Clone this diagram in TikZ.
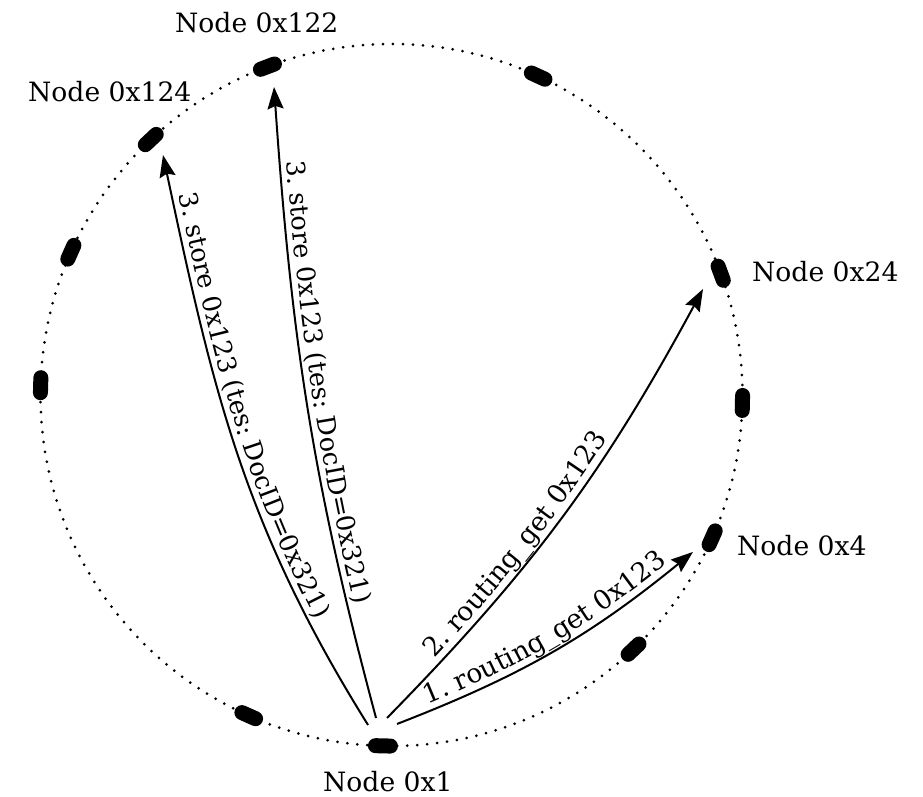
\documentclass[tikz,border=0pt]{standalone}
\usepackage{fontspec}
\setmainfont{DejaVu Serif}
\usetikzlibrary{arrows.meta,calc,decorations.text}
\newcommand{\storefont}{\fontsize{25.5}{30}\selectfont}
\newcommand{\routefont}{\fontsize{26.6}{32}\selectfont}
\begin{document}
\begin{tikzpicture}[x=1pt,y=1pt,
  peer/.style={draw=none, fill=black, rectangle, rounded corners=7.5pt,
    minimum width=30pt, minimum height=15pt, inner sep=0pt},
  msg/.style={line width=2pt, -{Stealth[length=22pt,width=16pt,inset=3pt]}},
  peerlabel/.style={font=\fontsize{26.6}{32}\selectfont, inner sep=0pt, anchor=base west},
  ring/.style={line width=3pt, line cap=round, dash pattern=on 0pt off 10pt}]
\useasboundingbox (0,0) rectangle (923,797);
\coordinate (c) at (391.5,402);
\draw[ring] (c) circle[radius=351];
\foreach \a/\n in {268.6/n1, 246/ma, 178.4/mb, 156/mc, 133.3/n124, 110.7/n122,
    65.3/md, 20.3/n24, -1.3/me, -24/n4, -46.4/mf}
  \node[peer, rotate=\a+90] (\n) at ([shift={(\a:351)}]c) {};
% peer labels
\node[peerlabel] (l1) at (323,5) {Node 0x1};
\node[peerlabel] (l4) at (737,241) {Node 0x4};
\node[peerlabel] (l24) at (752,515) {Node 0x24};
\node[peerlabel] (l122) at (175,764) {Node 0x122};
\node[peerlabel] (l124) at (28,695) {Node 0x124};
% messages
\draw[msg] ([shift={(-14.9,20.9)}]n1.center) to[out=122,in=282]
  ([shift={(12.2,-15.5)}]n124.center);
\path[decorate, decoration={text along path, raise=7pt,
    text align={left indent=42pt},
    text={|\storefont|3. store 0x123 (tes: DocID=0x321)}}]
  ([shift={(12.2,-15.5)}]n124.center) to[out=282,in=122]
  ([shift={(-14.9,20.9)}]n1.center);
\draw[msg] ([shift={(-6.9,27.9)}]n1.center) to[out=105,in=274]
  ([shift={(6.6,-20.3)}]n122.center);
\path[decorate, decoration={text along path, raise=7pt,
    text align={left indent=75pt},
    text={|\storefont|3. store 0x123 (tes: DocID=0x321)}}]
  ([shift={(6.6,-20.3)}]n122.center) to[out=274,in=105]
  ([shift={(-6.9,27.9)}]n1.center);
\draw[msg] ([shift={(4.1,27.9)}]n1.center) to[out=45.6,in=241.6]
  ([shift={(-17.7,-15.8)}]n24.center);
\path[decorate, decoration={text along path, raise=7pt,
    text align={left indent=76pt},
    text={|\routefont|2. routing{\_}get 0x123}}]
  ([shift={(4.1,27.9)}]n1.center) to[out=45.6,in=241.6]
  ([shift={(-17.7,-15.8)}]n24.center);
\draw[msg] ([shift={(14.1,21.9)}]n1.center) to[out=21.2,in=219.2]
  ([shift={(-19.2,-14.2)}]n4.center);
\path[decorate, decoration={text along path, raise=7pt,
    text align={left indent=36pt},
    text={|\routefont|1. routing{\_}get 0x123}}]
  ([shift={(14.1,21.9)}]n1.center) to[out=21.2,in=219.2]
  ([shift={(-19.2,-14.2)}]n4.center);
\end{tikzpicture}
\end{document}
